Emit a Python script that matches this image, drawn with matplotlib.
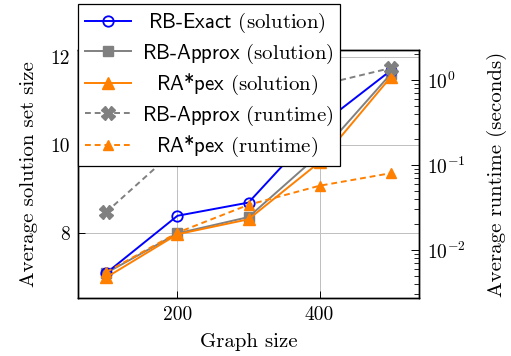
import matplotlib
matplotlib.use("Agg")
import matplotlib.pyplot as plt
from matplotlib.ticker import LogLocator, LogFormatterSciNotation, NullFormatter

plt.rcParams['font.family'] = 'cmr10'
plt.rcParams['mathtext.fontset'] = 'cm'
plt.rcParams['axes.formatter.use_mathtext'] = True

graph_size = [100, 200, 300, 400, 500]
exact_sol = [7.1, 8.4, 8.7, 10.45, 11.7]
approx_sol = [7.1, 8.0, 8.37, 9.8, 11.62]
rapex_sol = [7.0, 7.98, 8.32, 9.62, 11.55]
approx_rt = [0.028, 0.158, 0.37, 0.87, 1.38]
rapex_rt = [0.0055, 0.016, 0.034, 0.057, 0.080]

x_ticks = [200, 400]
y_ticks = [8, 10, 12]

BLUE = (0, 0, 1)
GRAY = (0.5, 0.5, 0.5)
ORANGE = (1, 0.5, 0)

W, H = 511, 356
fig = plt.figure(figsize=(W / 100, H / 100), dpi=100)
ax = fig.add_axes([78 / W, 1 - 298 / H, (419 - 78) / W, (298 - 50) / H])
ax2 = ax.twinx()

lw = 1.4
ms = 7.5
h1, = ax.plot(graph_size, exact_sol, color=BLUE, lw=lw, marker='o', ms=ms,
              mfc='none', mec=BLUE, mew=1.3, zorder=5)
h2, = ax.plot(graph_size, approx_sol, color=GRAY, lw=lw, marker='s', ms=ms,
              mfc=GRAY, mec=GRAY, zorder=4)
h3, = ax.plot(graph_size, rapex_sol, color=ORANGE, lw=lw, marker='^', ms=ms + 1,
              mfc=ORANGE, mec=ORANGE, zorder=6)
h4, = ax2.plot(graph_size, approx_rt, color=GRAY, lw=lw, ls=(0, (3, 2)), marker='X',
               ms=ms + 2, mfc=GRAY, mec=GRAY)
h5, = ax2.plot(graph_size, rapex_rt, color=ORANGE, lw=lw, ls=(0, (3, 2)), marker='^',
               ms=ms - 1, mfc=ORANGE, mec=ORANGE)

ax.set_xlim(60, 540)
ax.set_ylim(6.53, 12.17)
ax.set_xticks(x_ticks)
ax.set_xticklabels([str(v) for v in x_ticks])
ax.set_yticks(y_ticks)
ax.set_yticklabels([str(v) for v in y_ticks])
ax.grid(True, color=(0.75, 0.75, 0.75), lw=0.7)
ax.set_axisbelow(True)
ax.tick_params(direction='in', length=5, labelsize=14, width=0.7, pad=6)

ax2.set_yscale('log')
ax2.set_ylim(10 ** -2.565, 10 ** 0.353)
ax2.yaxis.set_major_locator(LogLocator(base=10, numticks=10))
ax2.yaxis.set_major_formatter(LogFormatterSciNotation())
ax2.yaxis.set_minor_locator(LogLocator(base=10, subs=range(2, 10), numticks=20))
ax2.yaxis.set_minor_formatter(NullFormatter())
ax2.tick_params(which='major', direction='in', length=6, width=0.7, labelsize=14, pad=6)
ax2.tick_params(which='minor', direction='in', length=3.5, width=0.6)

for a in (ax, ax2):
    for s in a.spines.values():
        s.set_linewidth(1.0)

ax.set_xlabel('Graph size', fontsize=15, labelpad=6)
ax.set_ylabel('Average solution set size', fontsize=15, labelpad=9)
ax2.set_ylabel('Average runtime (seconds)', fontsize=15, labelpad=15)

labels = [r'RB-Exact $\mathrm{(solution)}$',
          r'RB-Approx $\mathrm{(solution)}$',
          r'RA*pex $\mathrm{(solution)}$',
          r'RB-Approx $\mathrm{(runtime)}$',
          r'RA*pex $\mathrm{(runtime)}$']
leg = fig.legend([h1, h2, h3, h4, h5], labels, loc='upper left',
                 bbox_to_anchor=(78 / W, 1 - 4 / H), bbox_transform=fig.transFigure,
                 borderaxespad=0, frameon=True, fancybox=False, edgecolor='black',
                 framealpha=1, prop={'family': 'cmss10', 'size': 15},
                 handlelength=2.2, labelspacing=0.3, borderpad=0.35,
                 handletextpad=0.5)
leg.get_frame().set_linewidth(0.9)

# center legend entries horizontally, as in the reference
fig.canvas.draw()
renderer = fig.canvas.get_renderer()
widths = [t.get_window_extent(renderer).width for t in leg.get_texts()]
maxw = max(widths)
for t, w in zip(leg.get_texts(), widths):
    t.set_x((maxw - w) / 2)

fig.savefig('out.png', dpi=100)
